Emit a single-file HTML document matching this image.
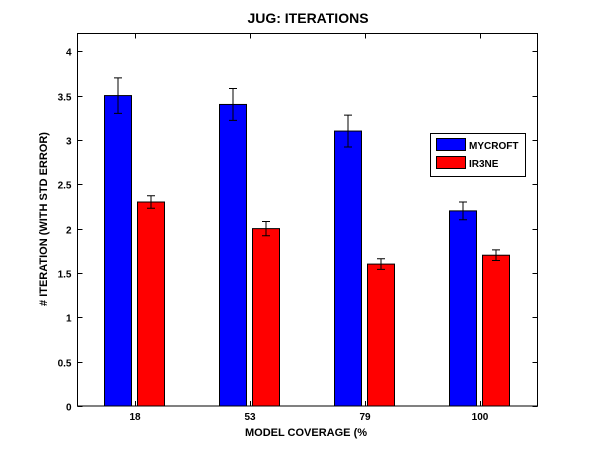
<!DOCTYPE html>
<html><head><meta charset="utf-8"><style>
body{margin:0;background:#fff;}
svg text{font-family:"Liberation Sans",sans-serif;font-weight:bold;fill:#000;}
</style></head><body>
<svg id="c" width="594" height="456" xmlns="http://www.w3.org/2000/svg">
<text x="308" y="23" text-anchor="middle" font-size="14">JUG: ITERATIONS</text>
<text x="306" y="436" text-anchor="middle" font-size="11">MODEL COVERAGE (%</text>
<text transform="translate(47,219) rotate(-90)" text-anchor="middle" font-size="11"># ITERATION (WITH STD ERROR)</text>
<g id="bars"></g>
<rect x="77.5" y="33.5" width="460" height="372.5" fill="none" stroke="#000"/>
<g id="ticks"></g>
<g>
<rect x="430.5" y="133.5" width="95" height="43" fill="#fff" stroke="#000"/>
<rect x="436.5" y="138.5" width="29" height="12" fill="#0000ff" stroke="#000"/>
<text x="469" y="149" font-size="10">MYCROFT</text>
<rect x="436.5" y="156.5" width="29" height="12" fill="#ff0000" stroke="#000"/>
<text x="469" y="167" font-size="10">IR3NE</text>
</g>
</svg>
<script>
const categories=["18","53","79","100"];
const mycroft=[3.5,3.4,3.1,2.2];
const mycroftErr=[0.2,0.18,0.18,0.1];
const ir3ne=[2.3,2.0,1.6,1.7];
const ir3neErr=[0.07,0.08,0.06,0.06];
const yTicks=[0,0.5,1,1.5,2,2.5,3,3.5,4];
const yTickLabels=["0","0.5","1","1.5","2","2.5","3","3.5","4"];
const NS="http://www.w3.org/2000/svg";
const L=77.5,R=537.5,T=33.5,B=406;
const yMax=4.2;
function y(v){return B-(v/yMax)*(B-T);}
function x(i){return L+(i+0.5)*(R-L)/categories.length;}
function mk(tag,attrs,parent){const e=document.createElementNS(NS,tag);for(const k in attrs)e.setAttribute(k,attrs[k]);parent.appendChild(e);return e;}
const bars=document.getElementById('bars'),ticks=document.getElementById('ticks');
const series=[[mycroft,mycroftErr,"#0000ff",-17,"mycroft"],[ir3ne,ir3neErr,"#ff0000",16,"ir3ne"]];
categories.forEach((c,i)=>{
  series.forEach(s=>{
    const cx=x(i)+s[3],v=s[0][i],e=s[1][i];
    const r=mk('rect',{x:cx-13.5,y:y(v),width:27,height:B-y(v),fill:s[2],stroke:'#000'},bars);
    
    
    const g=mk('path',{d:`M${cx} ${y(v+e)}V${y(v-e)}M${cx-4} ${y(v+e)}H${cx+4}M${cx-4} ${y(v-e)}H${cx+4}`,stroke:'#000',fill:'none'},bars);
    
    
  });
  const tx=Math.round(x(i))+0.5;
  const t=mk('path',{d:`M${tx} ${B}v-5M${tx} ${T}v5`,stroke:'#000'},ticks);
  
  
  const l=mk('text',{x:x(i),y:B+14,'text-anchor':'middle','font-size':10},ticks);
  l.textContent=c;
  
  
});
yTicks.forEach((v,i)=>{
  const ty=Math.round(y(v))+0.5;
  const t=mk('path',{d:`M${L} ${ty}h5M${R} ${ty}h-5`,stroke:'#000'},ticks);
  
  
  const l=mk('text',{x:L-6,y:ty+4,'text-anchor':'end','font-size':10},ticks);
  l.textContent=yTickLabels[i];
  
  
});
</script>
</body></html>
